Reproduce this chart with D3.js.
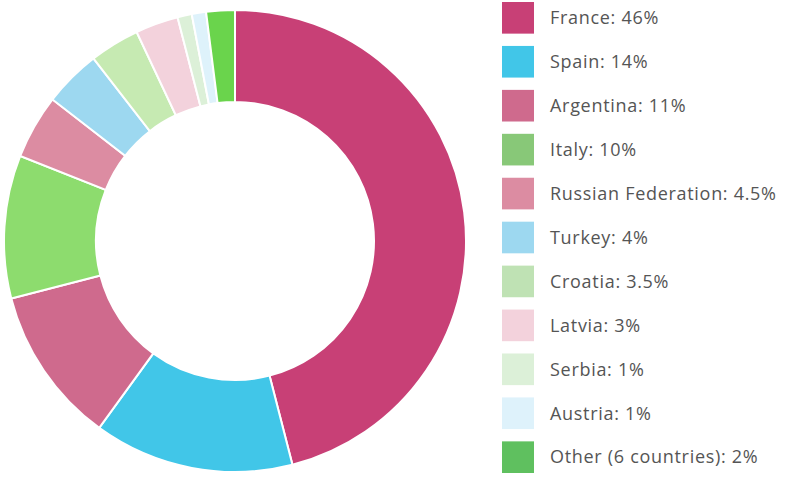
<!DOCTYPE html>
<html>
<head>
<script src="https://cdn.jsdelivr.net/npm/d3@7"></script>
<style>
html, body { margin: 0; background: #fff; }
svg { display: block; }
text { font-family: "Open Sans", sans-serif; font-size: 18px; letter-spacing: 0.7px; fill: #555; }
</style>
</head>
<body>
<script>
var countries = ["France", "Spain", "Argentina", "Italy", "Russian Federation", "Turkey", "Croatia", "Latvia", "Serbia", "Austria", "Other (6 countries)"];
var shares = [46, 14, 11, 10, 4.5, 4, 3.5, 3, 1, 1, 2];
var sliceColors = ["#c84076", "#41c6e8", "#cf6a8d", "#8ddc6e", "#dc8ca2", "#9dd8f0", "#c6eab2", "#f3d2dc", "#dcf0d8", "#def2fb", "#6ad44c"];
var legendColors = ["#c84076", "#41c6e8", "#cf6a8d", "#88c878", "#dc8ca2", "#9dd8f0", "#bfe2b4", "#f3d2dc", "#dcf0d8", "#def2fb", "#5fc05f"];

var svg = d3.select("body").append("svg").attr("width", 800).attr("height", 478);

var data = countries.map(function(c, i) { return {name: c, value: shares[i], i: i}; });

var pie = d3.pie().sort(null).value(function(d) { return d.value; });
var arc = d3.arc().innerRadius(139).outerRadius(231);

svg.append("g")
    .attr("transform", "translate(235,241)")
  .selectAll("path")
    .data(pie(data))
  .enter().append("path")
    .attr("d", arc)
    .attr("fill", function(d) { return sliceColors[d.data.i]; })
    .attr("stroke", "#fff")
    .attr("stroke-width", 2);

// legend
var y = d3.scaleBand().domain(countries).range([2, 473]).paddingInner(0.28).paddingOuter(0);

var item = svg.selectAll("g.legend")
    .data(data)
  .enter().append("g")
    .attr("class", "legend")
    .attr("transform", function(d) { return "translate(502," + y(d.name) + ")"; });

item.append("rect")
    .attr("width", 32)
    .attr("height", y.bandwidth())
    .attr("fill", function(d) { return legendColors[d.i]; });

item.append("text")
    .attr("x", 48)
    .attr("y", y.bandwidth() / 2)
    .attr("dy", ".35em")
    .text(function(d) { return d.name + ": " + d.value + "%"; });
</script>
</body>
</html>
